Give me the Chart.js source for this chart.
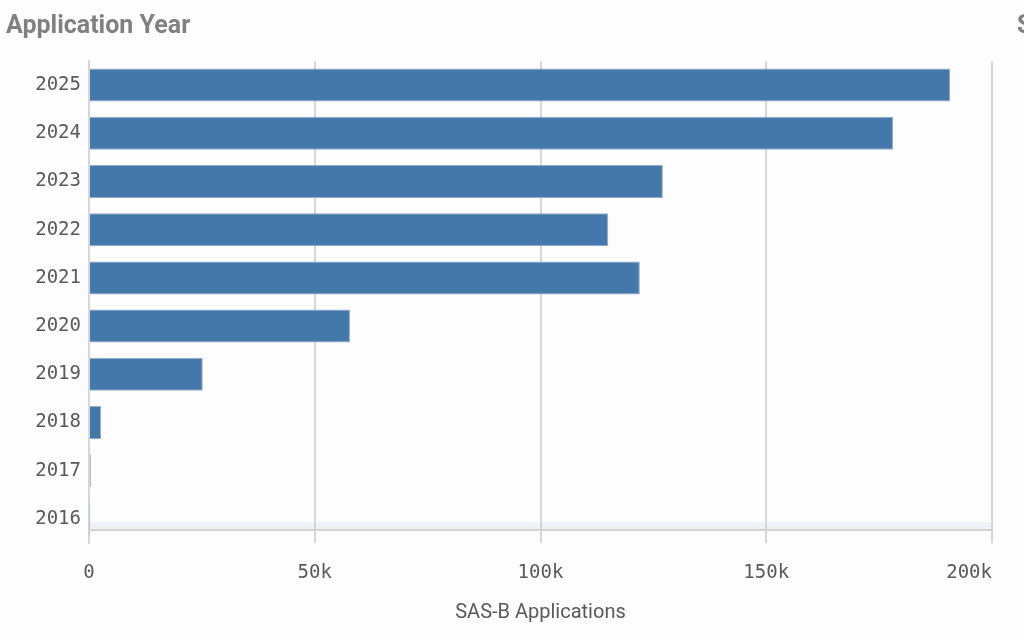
<!DOCTYPE html>
<html>
<head>
<meta charset="utf-8">
<script src="https://cdn.jsdelivr.net/npm/chart.js@4/dist/chart.umd.min.js"></script>
<style>
html,body{margin:0;padding:0;background:#fdfdfd;}
#wrap{width:1024px;height:639px;position:relative;}
</style>
</head>
<body>
<div id="wrap"><canvas id="c"></canvas></div>
<script>
const years = ['2025','2024','2023','2022','2021','2020','2019','2018','2017','2016'];
const applications = [190700, 178100, 127100, 115000, 122000, 57800, 25200, 2700, 400, 100];
const xTickValues = [0, 50000, 100000, 150000, 200000];
const xTickLabels = ['0', '50k', '100k', '150k', '200k'];
const dimensionTitle = 'Application Year';
const measureTitle = 'SAS-B Applications';
const nextPanelTitle = 'S';

const monoFont = "'DejaVu Sans Mono', monospace";
const sansFont = "Roboto, 'Noto Sans', sans-serif";

const decor = {
  id: 'decor',
  beforeDraw(chart) {
    const {ctx, chartArea: a} = chart;
    ctx.save();
    ctx.fillStyle = '#fdfdfd';
    ctx.fillRect(0, 0, chart.width, chart.height);
    ctx.fillStyle = '#eff3f7';
    ctx.fillRect(a.left + 1, 522, a.right - a.left - 1, 7);
    ctx.restore();
  },
  afterDraw(chart) {
    const {ctx, chartArea: a} = chart;
    ctx.save();
    ctx.strokeStyle = '#d3d3d3';
    ctx.lineWidth = 2;
    ctx.beginPath();
    ctx.moveTo(a.left, 530);
    ctx.lineTo(a.right + 1, 530);
    ctx.stroke();
    ctx.fillStyle = '#808080';
    ctx.font = "bold 25px " + sansFont;
    ctx.textBaseline = 'alphabetic';
    ctx.textAlign = 'left';
    ctx.fillText(dimensionTitle, 6, 33);
    ctx.fillText(nextPanelTitle, 1017, 33);
    ctx.restore();
  }
};

new Chart(document.getElementById('c'), {
  type: 'bar',
  data: {
    labels: years,
    datasets: [{
      data: applications,
      backgroundColor: '#4477aa',
      borderColor: '#8eaccb',
      borderWidth: 1,
      barPercentage: 0.685,
      categoryPercentage: 1
    }]
  },
  options: {
    indexAxis: 'y',
    responsive: true,
    maintainAspectRatio: false,
    animation: false,
    layout: { padding: { top: 61, right: 32, left: 0, bottom: 0 } },
    plugins: { legend: { display: false }, tooltip: { enabled: false } },
    scales: {
      y: {
        grid: { display: false, drawTicks: false },
        border: { display: true, color: '#d6d6d6', width: 2 },
        ticks: { color: '#595959', font: { family: monoFont, size: 19 }, padding: 8 },
        afterFit(s) { s.width = 89; }
      },
      x: {
        min: 0,
        max: 200000,
        afterBuildTicks(s) { s.ticks = xTickValues.map(v => ({ value: v })); },
        grid: { color: '#d6d6d6', lineWidth: 2, drawTicks: false },
        border: { display: false },
        ticks: {
          color: '#595959',
          font: { family: monoFont, size: 19 },
          padding: 19,
          maxRotation: 0,
          callback(v) {
            const i = xTickValues.indexOf(v);
            const t = i >= 0 ? xTickLabels[i] : '';
            return i === xTickValues.length - 1 ? t + '    ' : t;
          }
        },
        title: {
          display: true,
          text: measureTitle,
          color: '#595959',
          font: { family: sansFont, size: 20 },
          padding: { top: 0, bottom: 14 }
        },
        afterFit(s) { s.height = 96; s.paddingLeft = 0; s.paddingRight = 0; }
      }
    }
  },
  plugins: [decor]
});
</script>
</body>
</html>
